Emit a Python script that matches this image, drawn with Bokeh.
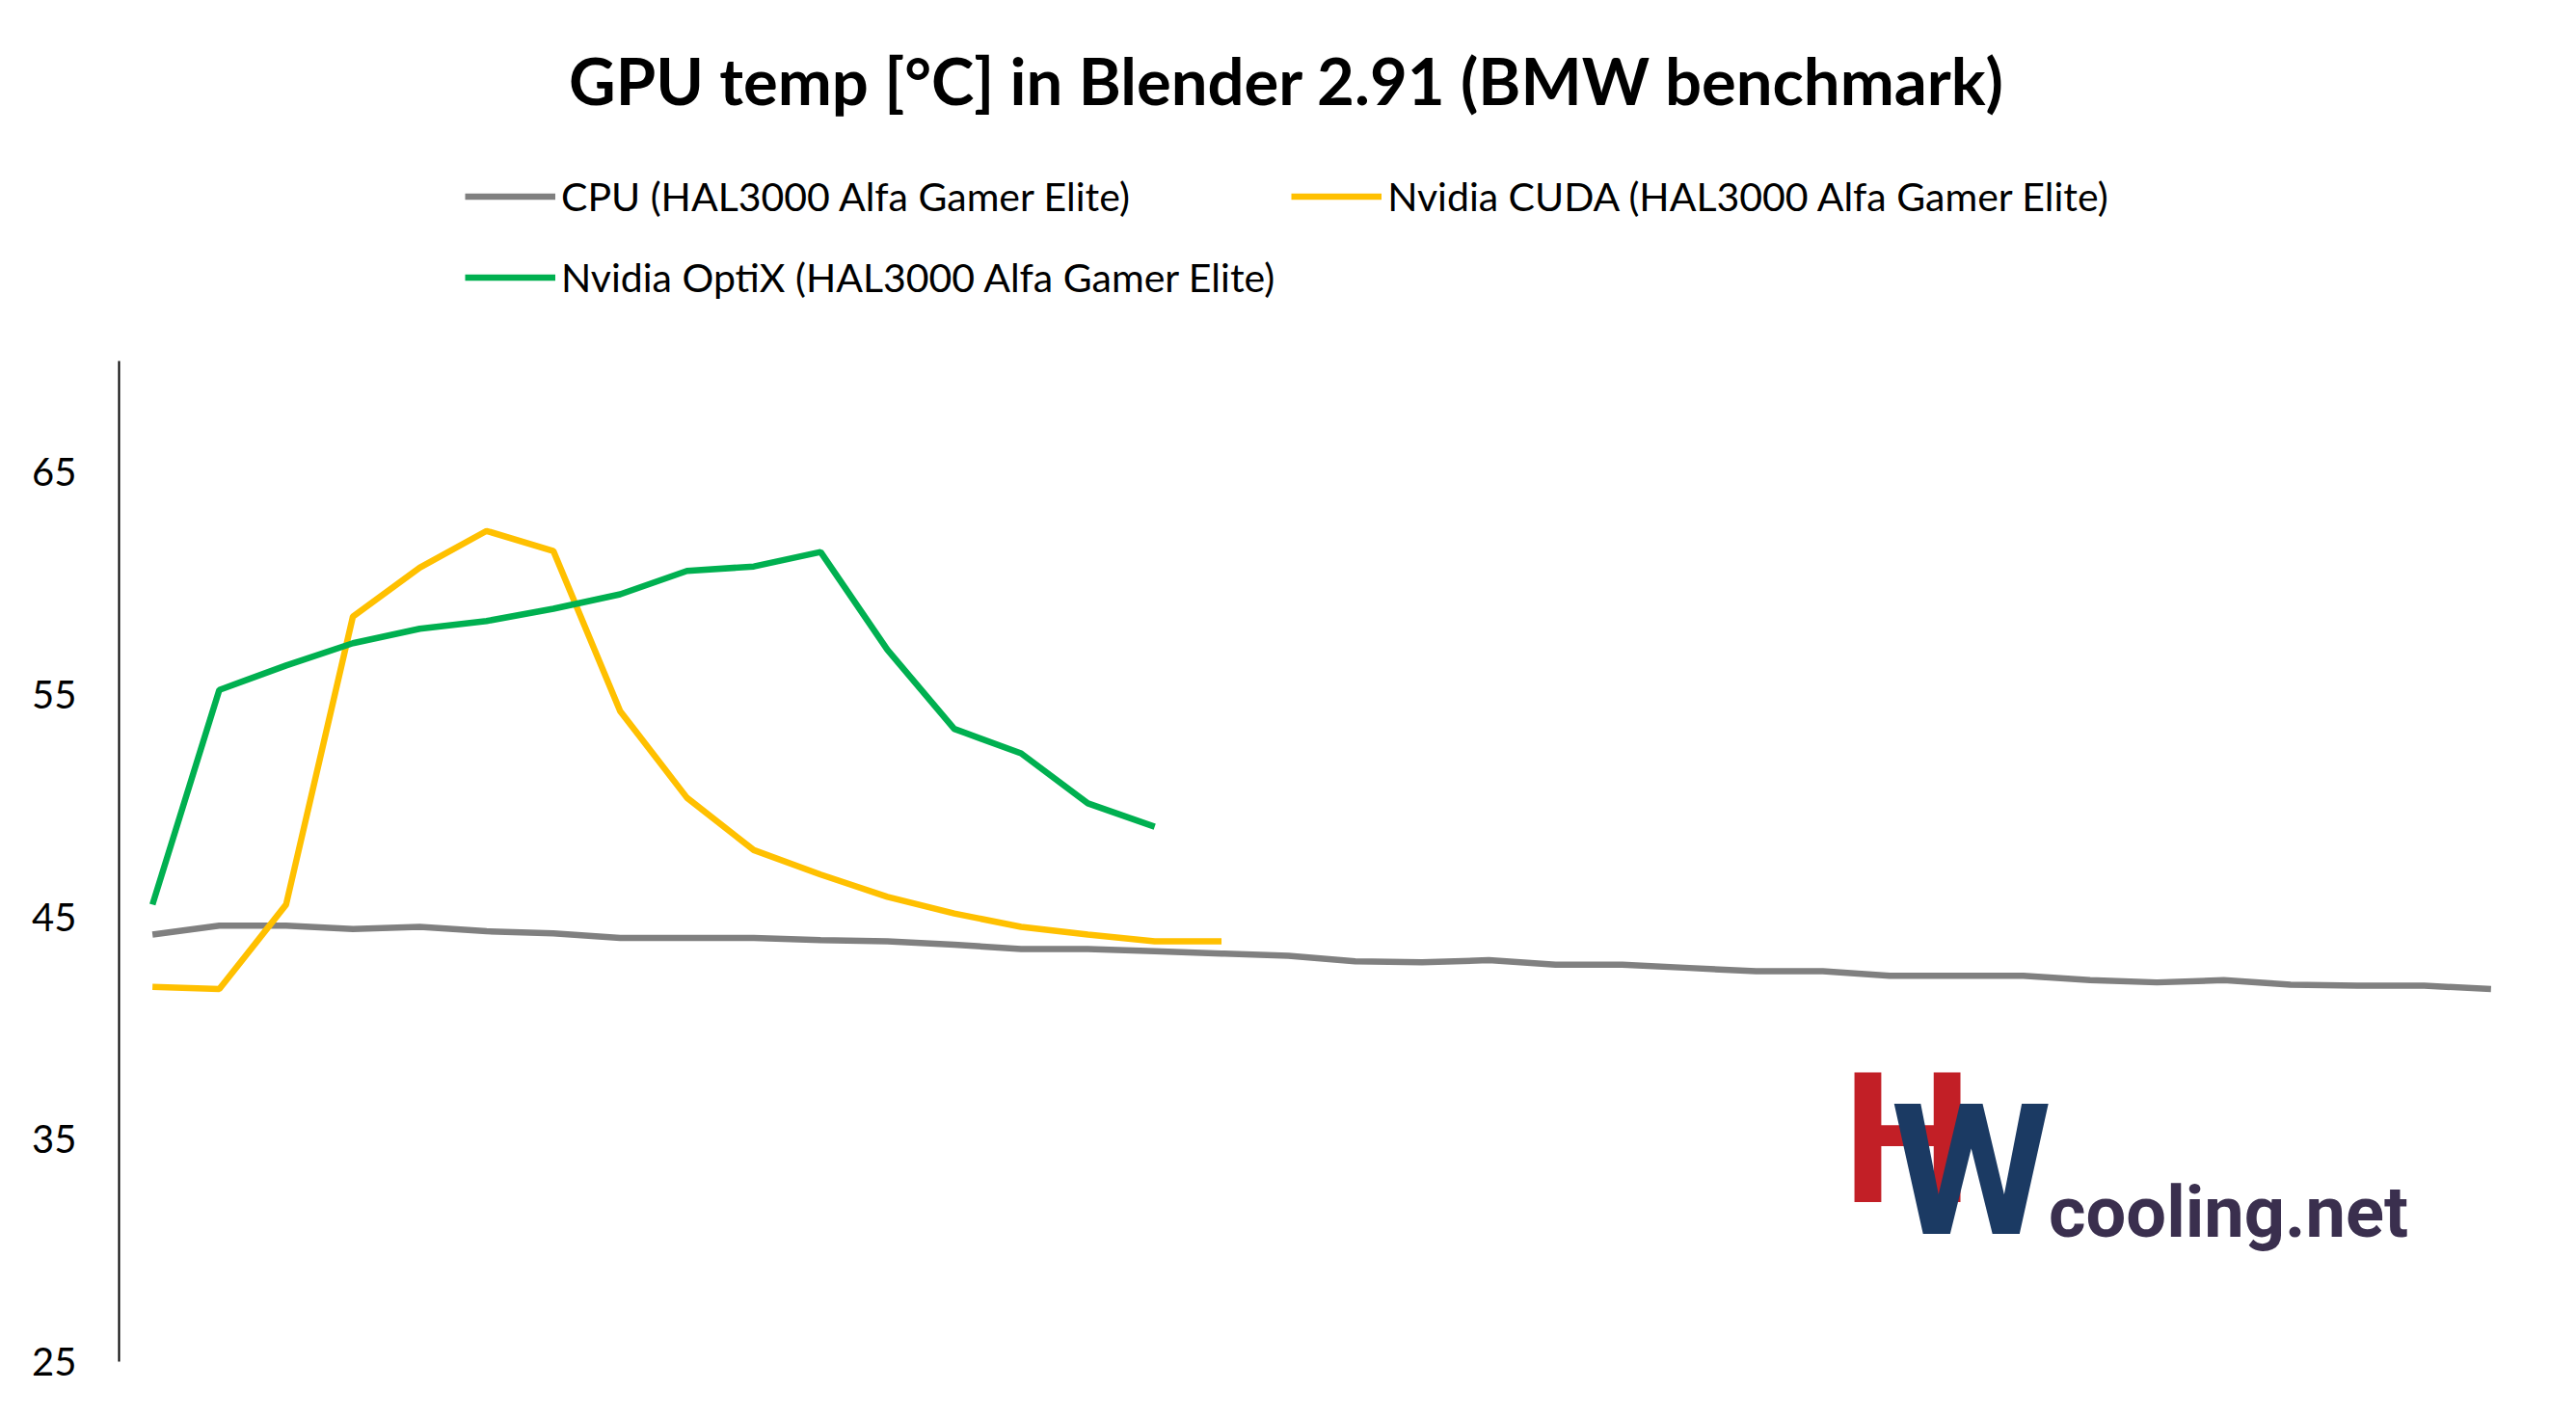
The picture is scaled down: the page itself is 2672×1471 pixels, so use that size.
from bokeh.plotting import figure
from bokeh.models import Range1d, FixedTicker, Legend, LegendItem, Label
from bokeh.embed import file_html
from bokeh.resources import INLINE

# ---- data ----
points = list(range(36))
cpu = [44.2, 44.6, 44.6, 44.45, 44.55, 44.35, 44.25, 44.05, 44.05, 44.05, 43.95, 43.9,
       43.75, 43.55, 43.55, 43.45, 43.35, 43.25, 43.0, 42.95, 43.05, 42.85, 42.85, 42.7,
       42.55, 42.55, 42.35, 42.35, 42.35, 42.15, 42.05, 42.15, 41.95, 41.9, 41.9, 41.75]
cuda = [41.85, 41.75, 45.55, 58.5, 60.7, 62.35, 61.45, 54.25, 50.35, 48.0, 46.9, 45.9,
        45.15, 44.55, 44.2, 43.9, 43.9]
optix = [45.55, 55.2, 56.3, 57.3, 57.95, 58.3, 58.85, 59.5, 60.55, 60.75, 61.4, 57.0,
         53.45, 52.35, 50.1, 49.05]
series_names = ["CPU (HAL3000 Alfa Gamer Elite)",
                "Nvidia CUDA (HAL3000 Alfa Gamer Elite)",
                "Nvidia OptiX (HAL3000 Alfa Gamer Elite)"]
series_colors = ["#808080", "#FFC000", "#00B050"]
y_ticks = [25, 35, 45, 55, 65]
title_text = "GPU temp [°C] in Blender 2.91 (BMW benchmark)"

FONT = "Lato"

# frame spans the whole height so the title and legend sit inside it;
# the axis line itself is bounded to 25..70
p = figure(width=2656, height=1455, output_backend="svg", toolbar_location=None,
           title_location=None,
           x_range=Range1d(-0.5, 35.5), y_range=Range1d(25, 86.2),
           min_border_left=123, min_border_right=38, min_border_top=0,
           min_border_bottom=43)
p.outline_line_color = None
p.xgrid.visible = False
p.ygrid.visible = False
p.xaxis.visible = False

ya = p.yaxis[0]
ya.ticker = FixedTicker(ticks=y_ticks)
ya.bounds = (25, 70)
ya.major_tick_line_color = None
ya.minor_tick_line_color = None
ya.axis_line_color = "black"
ya.axis_line_width = 2
ya.major_label_text_font = FONT
ya.major_label_text_font_size = "40px"
ya.major_label_text_color = "black"
ya.major_label_standoff = 38

renderers = []
for ys, col in zip([cpu, cuda, optix], series_colors):
    r = p.line(points[:len(ys)], ys, line_color=col, line_width=6.5)
    renderers.append(r)

legend = Legend(items=[LegendItem(label=n, renderers=[r])
                       for n, r in zip(series_names, renderers)],
                location=(359, 1091), orientation="horizontal", ncols=2, spacing=17,
                glyph_width=94, glyph_height=67, label_standoff=6,
                padding=0, margin=0, border_line_color=None,
                label_text_font=FONT, label_text_font_size="41px",
                label_text_color="black")
p.add_layout(legend)

p.add_layout(Label(x=16.98, y=80.9, text=title_text, text_align="center",
                   text_font=FONT, text_font_style="bold", text_font_size="67px",
                   text_color="black"))

# logo
p.add_layout(Label(x=25.3, y=30.2, text="H", text_font="Roboto",
                   text_font_style="bold", text_font_size="190px", text_color="#C21F26"))
p.add_layout(Label(x=26.02, y=28.77, text="W", text_font="Roboto",
                   text_font_style="bold", text_font_size="190px", text_color="#1B3A63"))
p.add_layout(Label(x=28.38, y=29.85, text="cooling.net", text_font="Roboto",
                   text_font_style="bold", text_font_size="74px", text_color="#3A2F4E"))

open("out.html", "w").write(file_html(p, INLINE))
